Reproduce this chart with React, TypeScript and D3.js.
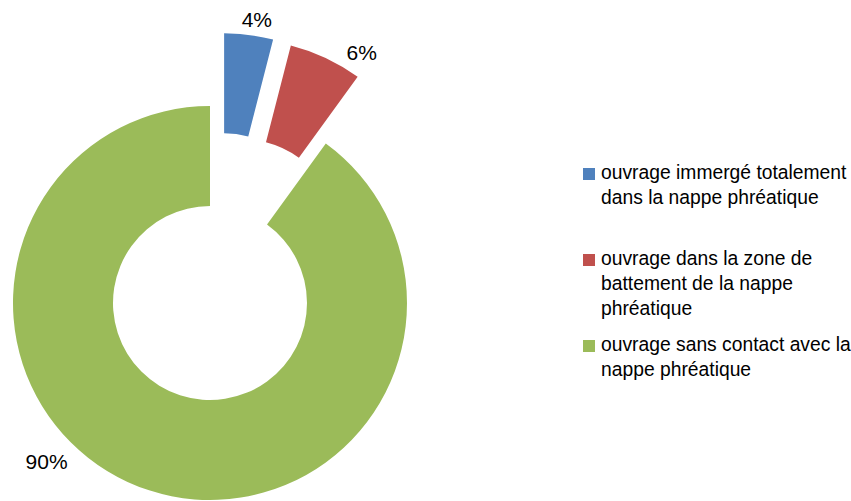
import React from "react";
import * as d3 from "d3";

const categories: string[][] = [
  ["ouvrage immergé totalement", "dans la nappe phréatique"],
  ["ouvrage dans la zone de", "battement de la nappe", "phréatique"],
  ["ouvrage sans contact avec la", "nappe phréatique"],
];
const values: number[] = [4, 6, 90];
const valueLabels: string[] = ["4%", "6%", "90%"];
const colors: string[] = ["#4F81BD", "#C0504D", "#9BBB59"];

// layout
const W = 851;
const H = 501;
const CX = 210;
const CY = 303;
const R_OUT = 197;
const R_IN = 97;
const explode = [74, 74, 0];
const explodeDirDeg = [11, 25.5, 0];
// label placement (polar, relative to donut centre)
const labelPolar = [
  { angleDeg: 9.4, dist: 287 },
  { angleDeg: 31.2, dist: 293 },
  { angleDeg: 225.8, dist: 228 },
];
const FONT = "'Liberation Sans', Arial, sans-serif";

export default function App() {
  const pie = d3
    .pie<number>()
    .sort(null)
    .startAngle(0)
    .endAngle(2 * Math.PI)
    .value((d) => d);
  const arcs = pie(values);
  const arc = d3
    .arc<d3.PieArcDatum<number>>()
    .innerRadius(R_IN)
    .outerRadius(R_OUT);

  const legendX = 583;
  const legendStartY = 174;
  const legendStep = 86;
  const lineH = 25;

  return (
    <svg
      width={W}
      height={H}
      style={{ position: "absolute", left: 0, top: 0 }}
      fontFamily={FONT}
    >
      <rect width={W} height={H} fill="#ffffff" />
      <g transform={`translate(${CX},${CY})`}>
        {arcs.map((a, i) => {
          const dir = (explodeDirDeg[i] * Math.PI) / 180;
          const dx = Math.sin(dir) * explode[i];
          const dy = -Math.cos(dir) * explode[i];
          return (
            <path
              key={i}
              d={arc(a) || ""}
              fill={colors[i]}
              transform={`translate(${dx},${dy})`}
            />
          );
        })}
        {labelPolar.map((p, i) => {
          const ang = (p.angleDeg * Math.PI) / 180;
          return (
            <text
              key={i}
              x={Math.sin(ang) * p.dist}
              y={-Math.cos(ang) * p.dist}
              textAnchor="middle"
              dominantBaseline="central"
              fontSize={21}
              fill="#000"
            >
              {valueLabels[i]}
            </text>
          );
        })}
      </g>
      <g>
        {categories.map((lines, i) => {
          const y0 = legendStartY + i * legendStep;
          return (
            <g key={i}>
              <rect x={legendX} y={y0 - 6} width={12} height={12} fill={colors[i]} />
              {lines.map((ln, j) => (
                <text
                  key={j}
                  x={legendX + 18}
                  y={y0 + 5 + j * lineH}
                  fontSize={19.3}
                  fill="#000"
                >
                  {ln}
                </text>
              ))}
            </g>
          );
        })}
      </g>
    </svg>
  );
}
